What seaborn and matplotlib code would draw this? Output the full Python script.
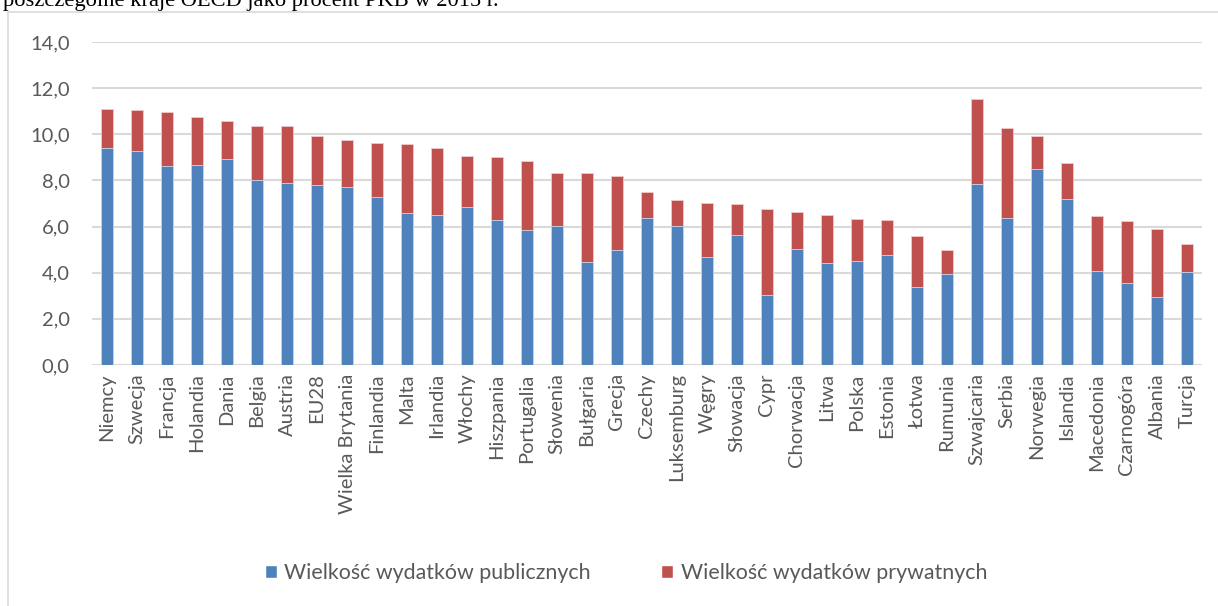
import numpy as np
import pandas as pd
import matplotlib
matplotlib.use("Agg")
import matplotlib.pyplot as plt
from matplotlib.patches import Patch
from matplotlib.lines import Line2D
import seaborn as sns

# Data (% of GDP)
countries = ["Niemcy", "Szwecja", "Francja", "Holandia", "Dania", "Belgia", "Austria",
             "EU28", "Wielka Brytania", "Finlandia", "Malta", "Irlandia", "Włochy",
             "Hiszpania", "Portugalia", "Słowenia", "Bułgaria", "Grecja", "Czechy",
             "Luksemburg", "Węgry", "Słowacja", "Cypr", "Chorwacja", "Litwa", "Polska",
             "Estonia", "Łotwa", "Rumunia", "Szwajcaria", "Serbia", "Norwegia",
             "Islandia", "Macedonia", "Czarnogóra", "Albania", "Turcja"]
public = [9.42, 9.26, 8.62, 8.69, 8.91, 8.03, 7.87, 7.80, 7.70, 7.28, 6.57, 6.48, 6.83,
          6.27, 5.83, 6.04, 4.45, 4.97, 6.35, 6.01, 4.69, 5.62, 3.02, 5.01, 4.42, 4.52,
          4.75, 3.36, 3.94, 7.83, 6.35, 8.49, 7.18, 4.09, 3.55, 2.95, 4.03]
private = [1.66, 1.80, 2.35, 2.05, 1.66, 2.31, 2.47, 2.11, 2.05, 2.35, 2.99, 2.91, 2.21,
           2.73, 3.02, 2.29, 3.87, 3.23, 1.17, 1.14, 2.34, 1.35, 3.74, 1.62, 2.06, 1.79,
           1.53, 2.21, 1.06, 3.69, 3.93, 1.43, 1.57, 2.38, 2.67, 2.94, 1.20]
yticks = [0, 2, 4, 6, 8, 10, 12, 14]
series_names = ["Wielkość wydatków publicznych", "Wielkość wydatków prywatnych"]
title_text = "poszczególne kraje OECD jako procent PKB w 2015 r."

df = pd.DataFrame({"kraj": countries, "publiczne": public, "prywatne": private})
df["razem"] = df["publiczne"] + df["prywatne"]

sns.set_theme(style="white")
plt.rcParams["font.family"] = ["Lato", "DejaVu Sans"]

BLUE = "#4f81bd"
RED = "#c0504d"
GRAY_TXT = "#595959"
GRID = "#d9d9d9"

W, H = 1218, 606
fig = plt.figure(figsize=(W / 100, H / 100), dpi=100)
ax = fig.add_axes([92 / W, 1 - 365 / H, (1202 - 92) / W, (365 - 42) / H])

sns.barplot(data=df, x="kraj", y="razem", color=RED, saturation=1, width=0.4,
            edgecolor="#f2c9c8", linewidth=0.6, ax=ax, zorder=3)
sns.barplot(data=df, x="kraj", y="publiczne", color=BLUE, saturation=1, width=0.4,
            edgecolor="#c9d9ee", linewidth=0.6, ax=ax, zorder=3)

ax.set_ylim(0, 14)
ax.set_xlim(-0.5, len(countries) - 0.5)
ax.set_yticks(yticks)
ax.set_yticklabels([f"{v:.1f}".replace(".", ",") for v in yticks])
ax.yaxis.grid(True, color=GRID, linewidth=1.5, zorder=0)
ax.set_axisbelow(True)
for s in ax.spines.values():
    s.set_visible(False)
ax.set_xlabel("")
ax.set_ylabel("")
ax.tick_params(axis="y", length=0, pad=16, labelsize=14.5, labelcolor=GRAY_TXT)
ax.tick_params(axis="x", length=0, pad=6, labelsize=14.5, labelcolor=GRAY_TXT)
plt.setp(ax.get_xticklabels(), rotation=90)

handles = [Patch(facecolor=BLUE), Patch(facecolor=RED)]
leg = fig.legend(handles, series_names, loc="center", bbox_to_anchor=(0.514, 1 - 573 / H),
                 ncol=2, frameon=False, fontsize=15.4, handlelength=0.55, handleheight=0.55,
                 handletextpad=0.35, columnspacing=3.3)
for t in leg.get_texts():
    t.set_color(GRAY_TXT)

# outer chart frame (partially cropped in the original)
fig.add_artist(Line2D([8 / W, 8 / W], [0, 1 - 12 / H], color=GRID, linewidth=1.2))
fig.add_artist(Line2D([8 / W, 1], [1 - 12 / H, 1 - 12 / H], color=GRID, linewidth=1.2))

# cropped caption line from the document above the chart
fig.text(3 / W, 1 - 6 / H, title_text, family=["Liberation Serif", "DejaVu Serif"],
         fontsize=16.2, color="black", va="baseline", ha="left")

fig.savefig("out.png", dpi=100)
